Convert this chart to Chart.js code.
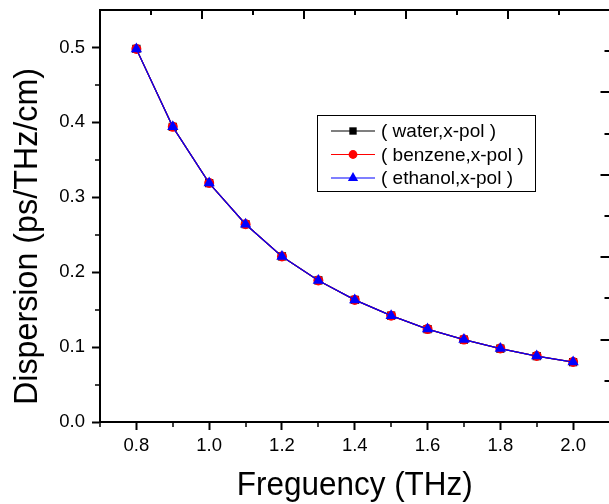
<!DOCTYPE html>
<html><head><meta charset="utf-8">
<script src="https://cdn.jsdelivr.net/npm/chart.js@4.4.0/dist/chart.umd.min.js"></script>
<style>
html,body{margin:0;padding:0;overflow:hidden;background:#fff;width:609px;height:504px}
canvas{display:block}
</style></head>
<body>
<canvas id="c" width="616" height="504" style="width:616px;height:504px"></canvas>
<script>
// ---- data ----
const frequencies = [0.8, 0.9, 1.0, 1.1, 1.2, 1.3, 1.4, 1.5, 1.6, 1.7, 1.8, 1.9, 2.0];
const waterDispersion   = [0.498, 0.394, 0.319, 0.264, 0.221, 0.189, 0.163, 0.142, 0.124, 0.110, 0.098, 0.088, 0.080];
const benzeneDispersion = [0.498, 0.394, 0.319, 0.264, 0.221, 0.189, 0.163, 0.142, 0.124, 0.110, 0.098, 0.088, 0.080];
const ethanolDispersion = [0.498, 0.394, 0.319, 0.264, 0.221, 0.189, 0.163, 0.142, 0.124, 0.110, 0.098, 0.088, 0.080];
const seriesLabels = ['( water,x-pol )', '( benzene,x-pol )', '( ethanol,x-pol )'];
const xTickLabels = [0.8, 1.0, 1.2, 1.4, 1.6, 1.8, 2.0];
const yTickLabels = [0.0, 0.1, 0.2, 0.3, 0.4, 0.5];
const xMinorTicks = [0.7, 0.9, 1.1, 1.3, 1.5, 1.7, 1.9, 2.1];
const yMinorTicks = [0.05, 0.15, 0.25, 0.35, 0.45];
const secondaryTicks = [0, 0.5, 1, 1.5, 2, 2.5, 3, 3.5, 4, 4.5, 5];
const xTitle = 'Freguency (THz)';
const yTitle = 'Dispersion (ps/THz/cm)';

const FONT = '"Liberation Sans", Arial, Helvetica, sans-serif';

function pts(vals){ return frequencies.map((f,i)=>({x:f, y:vals[i]})); }

const styles = [
  {color:'#000000', pointStyle:'rect', radius:5.8},
  {color:'#ff0000', pointStyle:'circle', radius:5},
  {color:'#0000ff', pointStyle:'triangle', radius:6.5}
];
const seriesData = [waterDispersion, benzeneDispersion, ethanolDispersion];

const datasets = seriesData.map((vals,i)=>({
  label: seriesLabels[i],
  data: pts(vals),
  borderColor: styles[i].color,
  backgroundColor: styles[i].color,
  pointBackgroundColor: styles[i].color,
  pointBorderColor: styles[i].color,
  pointBorderWidth: 0,
  pointStyle: styles[i].pointStyle,
  pointRadius: styles[i].radius,
  borderWidth: 1.2,
  tension: 0,
  order: 2 - i
}));

function noPad(s){ s.paddingTop = 0; s.paddingBottom = 0; s.paddingLeft = 0; s.paddingRight = 0; }

const decor = {
  id: 'decor',
  afterDraw(chart){
    const ctx = chart.ctx;
    const {x, y, x2, y2} = chart.scales;
    const a = chart.chartArea;
    ctx.save();
    ctx.strokeStyle = '#000';
    ctx.lineCap = 'butt';
    // minor ticks (outward) on bottom and left
    ctx.lineWidth = 1.5;
    ctx.beginPath();
    xMinorTicks.forEach(v=>{
      const px = Math.round(x.getPixelForValue(v));
      ctx.moveTo(px, a.bottom); ctx.lineTo(px, a.bottom + 5);
    });
    yMinorTicks.forEach(v=>{
      const py = Math.round(y.getPixelForValue(v));
      ctx.moveTo(a.left - 5, py); ctx.lineTo(a.left, py);
    });
    ctx.stroke();
    // top secondary axis ticks (inward)
    secondaryTicks.forEach(v=>{
      const major = Number.isInteger(v);
      const len = major ? 9 : 5;
      ctx.lineWidth = 2;
      const px = Math.round(x2.getPixelForValue(v));
      ctx.beginPath(); ctx.moveTo(px, a.top - 1); ctx.lineTo(px, a.top + len); ctx.stroke();
    });
    // right secondary axis ticks (inward)
    secondaryTicks.forEach(v=>{
      const major = Number.isInteger(v);
      const len = major ? 9 : 5;
      ctx.lineWidth = 2;
      const py = Math.round(y2.getPixelForValue(v));
      ctx.beginPath(); ctx.moveTo(a.right + 1, py); ctx.lineTo(a.right - len, py); ctx.stroke();
    });

    // legend box
    const lx = 317, ly = 115, lw = 218, lh = 76;
    ctx.lineWidth = 1;
    ctx.strokeStyle = '#000';
    ctx.strokeRect(lx + 0.5, ly + 0.5, lw, lh);
    const rows = [131, 154.5, 178];
    ctx.font = '19px ' + FONT;
    ctx.textBaseline = 'middle';
    ctx.textAlign = 'left';
    chart.data.datasets.forEach((ds,i)=>{
      const ry = rows[i];
      ctx.strokeStyle = ds.borderColor;
      ctx.lineWidth = 1.2;
      ctx.beginPath(); ctx.moveTo(331, ry); ctx.lineTo(375, ry); ctx.stroke();
      ctx.fillStyle = ds.pointBackgroundColor;
      Chart.helpers.drawPoint(ctx, {pointStyle: ds.pointStyle, radius: ds.pointRadius - 0.6, rotation: 0, borderWidth: 0}, 353, ry);
      ctx.fillStyle = '#000';
      ctx.fillText(ds.label, 381, ry + 1);
    });

    // axis titles (slightly condensed like the original)
    ctx.fillStyle = '#000';
    ctx.textAlign = 'center';
    ctx.textBaseline = 'alphabetic';
    ctx.font = '33px ' + FONT;
    let w = ctx.measureText(xTitle).width;
    ctx.save();
    ctx.translate((a.left + a.right) / 2, 495);
    ctx.scale(236 / w, 1);
    ctx.fillText(xTitle, 0, 0);
    ctx.restore();
    w = ctx.measureText(yTitle).width;
    ctx.save();
    ctx.translate(37, 236.5);
    ctx.rotate(-Math.PI / 2);
    ctx.scale(337 / w, 1);
    ctx.fillText(yTitle, 0, 0);
    ctx.restore();
    ctx.restore();
  }
};

new Chart(document.getElementById('c').getContext('2d'), {
  type: 'line',
  data: { datasets },
  options: {
    responsive: false,
    animation: false,
    layout: { padding: 0 },
    plugins: { legend: { display: false }, tooltip: { enabled: false } },
    scales: {
      x: {
        type: 'linear', position: 'bottom', min: 0.7, max: 2.1,
        afterBuildTicks: s => { s.ticks = xTickLabels.map(v => ({value: v})); },
        afterFit: s => { s.height = 82; noPad(s); },
        ticks: { font: {family: FONT, size: 18.5}, color: '#000', padding: 5, maxRotation: 0, autoSkip: false,
                 callback: v => Number(v).toFixed(1) },
        grid: { display: true, drawOnChartArea: false, tickLength: 8, tickWidth: 2, tickColor: '#000' },
        border: { display: true, color: '#000', width: 2 }
      },
      y: {
        type: 'linear', position: 'left', min: 0, max: 0.55,
        afterBuildTicks: s => { s.ticks = yTickLabels.map(v => ({value: v})); },
        afterFit: s => { s.width = 100; noPad(s); },
        ticks: { font: {family: FONT, size: 18.5}, color: '#000', padding: 7, autoSkip: false,
                 callback: v => Number(v).toFixed(1) },
        grid: { display: true, drawOnChartArea: false, tickLength: 8, tickWidth: 2, tickColor: '#000' },
        border: { display: true, color: '#000', width: 2 }
      },
      x2: {
        type: 'linear', position: 'top', min: 0, max: 5,
        afterFit: s => { s.height = 10; noPad(s); },
        ticks: { display: false },
        grid: { display: false },
        border: { display: true, color: '#000', width: 2 }
      },
      y2: {
        type: 'linear', position: 'right', min: 0, max: 5,
        afterFit: s => { s.width = 5; noPad(s); },
        ticks: { display: false },
        grid: { display: false },
        border: { display: true, color: '#000', width: 2 }
      }
    }
  },
  plugins: [decor]
});
</script>
</body></html>
